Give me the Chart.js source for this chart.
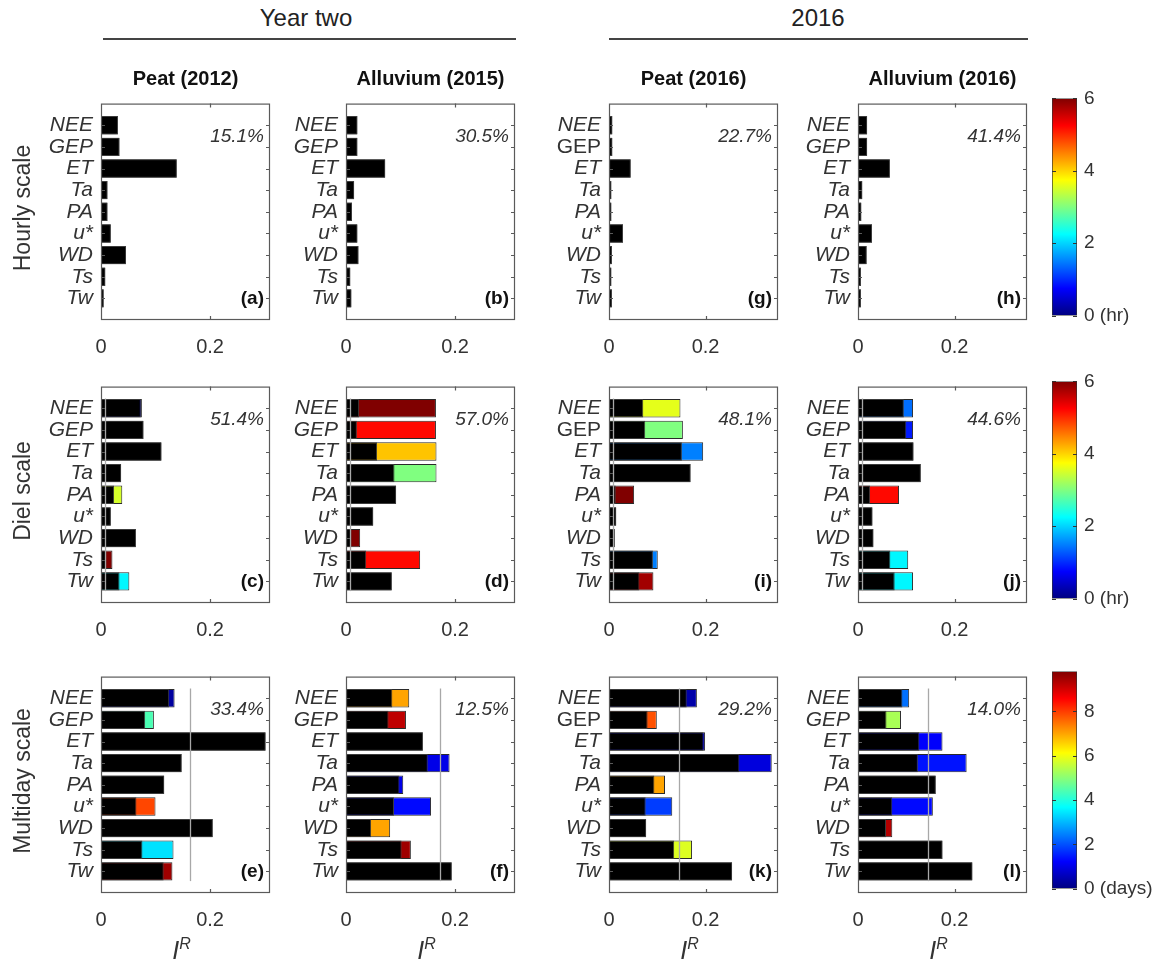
<!DOCTYPE html>
<html>
<head>
<meta charset="utf-8">
<script src="https://cdn.jsdelivr.net/npm/chart.js@4.4.1/dist/chart.umd.min.js"></script>
<style>
  body { margin: 0; background: #fff; overflow: hidden; }
  #fig { position: relative; width: 1154px; height: 962px; overflow: hidden; font-family: 'Liberation Sans', Arial, sans-serif; color: #333; }
  #fig canvas { position: absolute; }
  .head { position: absolute; font-size: 24px; color: #222; transform: translate(-50%, -50%); white-space: nowrap; }
  .rule { position: absolute; height: 2px; background: #444; }
  .ttl { position: absolute; font-size: 20px; font-weight: bold; color: #111; transform: translate(-50%, -50%); white-space: nowrap; }
  .rowlab { position: absolute; font-size: 23px; color: #333; transform: translate(-50%, -50%) rotate(-90deg); white-space: nowrap; }
  .ir { position: absolute; font-size: 25px; color: #333; transform: translate(-50%, -50%); white-space: nowrap; font-style: italic; }
  .ir sup { font-size: 16px; }
</style>
</head>
<body>
<div id="fig">
  <div class="head" style="left:306px;top:18px">Year two</div>
  <div class="rule" style="left:103px;top:38px;width:413px"></div>
  <div class="head" style="left:818px;top:18px">2016</div>
  <div class="rule" style="left:609px;top:38px;width:419px"></div>
</div>
<script>
// variables on the y axis
const variables = ['NEE', 'GEP', 'ET', 'Ta', 'PA', 'u*', 'WD', 'Ts', 'Tw'];
const xTicks = [0, 0.2];

// hourly scale (black part only)
const aBlack = [0.031, 0.034, 0.139, 0.012, 0.012, 0.018, 0.046, 0.008, 0.005];
const bBlack = [0.021, 0.021, 0.072, 0.015, 0.011, 0.021, 0.023, 0.008, 0.010];
const gBlack = [0.007, 0.007, 0.045, 0.005, 0.005, 0.029, 0.006, 0.005, 0.006];
const hBlack = [0.019, 0.019, 0.066, 0.009, 0.007, 0.029, 0.018, 0.006, 0.006];

// diel scale: black part, full bar, lag (hr)
const cBlack = [0.073, 0.078, 0.111, 0.037, 0.024, 0.018, 0.064, 0.010, 0.034];
const cTotal = [0.075, 0.078, 0.111, 0.037, 0.039, 0.018, 0.064, 0.021, 0.052];
const cLag = [0, null, null, null, 3.5, null, null, 6, 2.2];
const dBlack = [0.024, 0.020, 0.057, 0.089, 0.092, 0.050, 0.010, 0.037, 0.084];
const dTotal = [0.165, 0.165, 0.166, 0.166, 0.092, 0.050, 0.026, 0.136, 0.084];
const dLag = [6, 5.2, 4.1, 3.0, null, null, 6, 5.2, null];
const iBlack = [0.071, 0.075, 0.151, 0.169, 0.014, 0.015, 0.012, 0.091, 0.063];
const iTotal = [0.148, 0.153, 0.195, 0.169, 0.052, 0.015, 0.012, 0.101, 0.092];
const iLag = [3.6, 3.0, 1.5, null, 6, null, null, 1.5, 5.8];
const jBlack = [0.095, 0.100, 0.115, 0.130, 0.025, 0.030, 0.032, 0.067, 0.076];
const jTotal = [0.114, 0.114, 0.115, 0.130, 0.085, 0.030, 0.032, 0.104, 0.114];
const jLag = [1.4, 0.9, null, null, 5.2, null, null, 2.2, 2.2];

// multiday scale: black part, full bar, lag (days)
const eBlack = [0.125, 0.081, 0.302, 0.148, 0.116, 0.065, 0.205, 0.076, 0.115];
const eTotal = [0.135, 0.097, 0.302, 0.148, 0.116, 0.100, 0.205, 0.133, 0.131];
const eLag = [0.3, 4.4, null, null, null, 7.9, null, 3.4, 9.5];
const fBlack = [0.085, 0.078, 0.141, 0.150, 0.098, 0.088, 0.046, 0.102, 0.194];
const fTotal = [0.116, 0.110, 0.141, 0.190, 0.105, 0.156, 0.081, 0.119, 0.194];
const fLag = [7.0, 9.2, null, 1.0, 1.0, 1.3, 7.0, 9.5, null];
const kBlack = [0.161, 0.080, 0.196, 0.270, 0.094, 0.076, 0.077, 0.135, 0.255];
const kTotal = [0.182, 0.099, 0.199, 0.337, 0.116, 0.131, 0.077, 0.172, 0.255];
const kLag = [0.4, 7.8, 1.0, 0.9, 7.0, 1.8, null, 5.8, null];
const lBlack = [0.092, 0.059, 0.127, 0.124, 0.161, 0.071, 0.058, 0.175, 0.237];
const lTotal = [0.106, 0.089, 0.175, 0.225, 0.161, 0.155, 0.071, 0.175, 0.237];
const lLag = [2.3, 5.3, 1.2, 1.4, null, 1.3, 9.3, null, null];

const siteTitles = ['Peat (2012)', 'Alluvium (2015)', 'Peat (2016)', 'Alluvium (2016)'];
const scaleNames = ['Hourly scale', 'Diel scale', 'Multiday scale'];
const lagMax = [6, 6, 9.8];
const lagTicks = [[0, 2, 4, 6], [0, 2, 4, 6], [0, 2, 4, 6, 8]];
const lagUnits = ['hr', 'hr', 'days'];

const panels = [
  { tag: 'a', col: 0, row: 0, black: aBlack, total: null, lag: null, pct: '15.1%', thr: null },
  { tag: 'b', col: 1, row: 0, black: bBlack, total: null, lag: null, pct: '30.5%', thr: null },
  { tag: 'g', col: 2, row: 0, black: gBlack, total: null, lag: null, pct: '22.7%', thr: null, upright: ['GEP'] },
  { tag: 'h', col: 3, row: 0, black: hBlack, total: null, lag: null, pct: '41.4%', thr: null },
  { tag: 'c', col: 0, row: 1, black: cBlack, total: cTotal, lag: cLag, pct: '51.4%', thr: 0.008 },
  { tag: 'd', col: 1, row: 1, black: dBlack, total: dTotal, lag: dLag, pct: '57.0%', thr: 0.008 },
  { tag: 'i', col: 2, row: 1, black: iBlack, total: iTotal, lag: iLag, pct: '48.1%', thr: 0.009, upright: ['GEP'] },
  { tag: 'j', col: 3, row: 1, black: jBlack, total: jTotal, lag: jLag, pct: '44.6%', thr: 0.009 },
  { tag: 'e', col: 0, row: 2, black: eBlack, total: eTotal, lag: eLag, pct: '33.4%', thr: 0.164 },
  { tag: 'f', col: 1, row: 2, black: fBlack, total: fTotal, lag: fLag, pct: '12.5%', thr: 0.172 },
  { tag: 'k', col: 2, row: 2, black: kBlack, total: kTotal, lag: kLag, pct: '29.2%', thr: 0.145, upright: ['GEP'] },
  { tag: 'l', col: 3, row: 2, black: lBlack, total: lTotal, lag: lLag, pct: '14.0%', thr: 0.145 },
];

// layout
const colX = [101, 346, 609, 858];
const rowY = [95, 378, 668];
const xMax = [0.31, 0.31, 0.35, 0.35];
const PW = 169, PH = 225;
const family = "'Liberation Sans', Arial, sans-serif";
const fig = document.getElementById('fig');

Chart.defaults.font.family = family;

// matlab jet
function jet(t) {
  t = Math.max(0, Math.min(1, t));
  const c = (v) => Math.round(255 * Math.max(0, Math.min(1, v)));
  return `rgb(${c(1.5 - Math.abs(4 * t - 3))},${c(1.5 - Math.abs(4 * t - 2))},${c(1.5 - Math.abs(4 * t - 1))})`;
}

function addDiv(cls, html, x, y) {
  const d = document.createElement('div');
  d.className = cls;
  d.innerHTML = html;
  d.style.left = x + 'px';
  d.style.top = y + 'px';
  fig.appendChild(d);
}

// box, inward ticks, threshold line, texts
const panelFrame = {
  id: 'panelFrame',
  afterDatasetsDraw(chart, args, opts) {
    if (opts.thr == null) return;
    const { ctx, scales: { x, y } } = chart;
    const px = Math.round(x.getPixelForValue(opts.thr)) + 0.5;
    const step = y.getPixelForValue(1) - y.getPixelForValue(0);
    ctx.save();
    ctx.strokeStyle = '#a8a8a8';
    ctx.lineWidth = 1.3;
    ctx.beginPath();
    ctx.moveTo(px, y.getPixelForValue(1) - step * 0.45);
    ctx.lineTo(px, y.getPixelForValue(9) + step * 0.45);
    ctx.stroke();
    ctx.restore();
  },
  afterDraw(chart, args, opts) {
    const { ctx, chartArea: a, scales: { x, y } } = chart;
    ctx.save();
    ctx.strokeStyle = '#5a5a5a';
    ctx.lineWidth = 1.2;
    ctx.strokeRect(a.left + 0.5, a.top + 0.5, a.right - a.left - 1, a.bottom - a.top - 1);
    ctx.beginPath();
    x.ticks.forEach((t) => {
      if (t.value === 0) return;
      const px = Math.round(x.getPixelForValue(t.value)) + 0.5;
      ctx.moveTo(px, a.top); ctx.lineTo(px, a.top + 4);
      ctx.moveTo(px, a.bottom); ctx.lineTo(px, a.bottom - 4);
    });
    for (let i = 1; i <= variables.length; i++) {
      const py = Math.round(y.getPixelForValue(i)) + 0.5;
      ctx.moveTo(a.left, py); ctx.lineTo(a.left + 4, py);
      ctx.moveTo(a.right, py); ctx.lineTo(a.right - 4, py);
    }
    ctx.stroke();
    ctx.textAlign = 'right';
    ctx.textBaseline = 'middle';
    ctx.fillStyle = '#333';
    ctx.font = `italic 19px ${family}`;
    ctx.fillText(opts.pct, a.right - 6, y.getPixelForValue(1.55));
    ctx.fillStyle = '#111';
    ctx.font = `bold 19px ${family}`;
    ctx.fillText(`(${opts.tag})`, a.right - 6, y.getPixelForValue(9));
    ctx.restore();
  },
};

function makePanel(p) {
  const L = 80, R = 12, T = 12, B = 46;
  const cv = document.createElement('canvas');
  cv.width = L + PW + R;
  cv.height = T + PH + B;
  cv.style.left = colX[p.col] - L + 'px';
  cv.style.top = rowY[p.row] - T + 'px';
  fig.appendChild(cv);

  const pad = (arr) => [null, ...arr, null];
  const total = p.total || p.black;
  const lagColors = variables.map((_, i) =>
    p.lag && p.lag[i] != null ? jet(p.lag[i] / lagMax[p.row]) : '#000'
  );
  const upright = p.upright || [];

  new Chart(cv, {
    type: 'bar',
    data: {
      labels: ['', ...variables, ''],
      datasets: [
        {
          data: pad(p.black),
          backgroundColor: '#000',
          borderColor: '#3c3c3c',
          borderWidth: 1,
          borderSkipped: false,
          grouped: false,
          barPercentage: 0.85,
          categoryPercentage: 1,
        },
        {
          data: pad(total),
          backgroundColor: pad(lagColors),
          borderColor: '#2a2a2a',
          borderWidth: 1,
          borderSkipped: false,
          grouped: false,
          barPercentage: 0.85,
          categoryPercentage: 1,
        },
      ],
    },
    options: {
      indexAxis: 'y',
      responsive: false,
      animation: false,
      events: [],
      layout: { padding: { left: 10, right: R, top: T, bottom: 0 } },
      plugins: {
        legend: { display: false },
        tooltip: { enabled: false },
        panelFrame: { thr: p.thr, pct: p.pct, tag: p.tag },
      },
      scales: {
        x: {
          type: 'linear',
          min: 0,
          max: xMax[p.col],
          grid: { display: false, drawTicks: false },
          border: { display: false },
          afterBuildTicks: (s) => { s.ticks = xTicks.map((v) => ({ value: v })); },
          afterFit: (s) => { s.height = B; },
          ticks: { padding: 15, color: '#333', font: { size: 20 }, callback: (v) => String(v) },
        },
        y: {
          offset: false,
          grid: { display: false, drawTicks: false },
          border: { display: false },
          afterFit: (s) => { s.width = L - 10; },
          ticks: {
            autoSkip: false,
            padding: 8,
            color: '#333',
            font: (ctx) => ({
              size: 21,
              style: ctx.tick && upright.includes(ctx.tick.label) ? 'normal' : 'italic',
            }),
          },
        },
      },
    },
    plugins: [panelFrame],
  });
}

const barTicks = {
  id: 'barTicks',
  afterDraw(chart) {
    const { ctx, chartArea: a, scales: { y } } = chart;
    ctx.save();
    ctx.strokeStyle = '#333';
    ctx.lineWidth = 1;
    ctx.beginPath();
    y.ticks.forEach((t) => {
      const py = Math.round(y.getPixelForValue(t.value)) + 0.5;
      ctx.moveTo(a.left, py); ctx.lineTo(a.left + 4, py);
      ctx.moveTo(a.right, py); ctx.lineTo(a.right - 4, py);
    });
    ctx.stroke();
    ctx.restore();
  },
};

function makeColorbar(row) {
  const L = 10, W = 25, R = 77, T = 12, B = 16, H = 226;
  const cv = document.createElement('canvas');
  cv.width = L + W + R;
  cv.height = T + H + B;
  cv.style.left = 1052 - L + 'px';
  cv.style.top = rowY[row] - 3 - T + 'px';
  fig.appendChild(cv);
  const cmax = lagMax[row];

  new Chart(cv, {
    type: 'bar',
    data: {
      labels: [''],
      datasets: [{
        data: [[0, cmax]],
        backgroundColor: (ctx) => {
          const area = ctx.chart.chartArea;
          if (!area) return '#000';
          const g = ctx.chart.ctx.createLinearGradient(0, area.bottom, 0, area.top);
          for (let i = 0; i <= 32; i++) g.addColorStop(i / 32, jet(i / 32));
          return g;
        },
        borderColor: '#333',
        borderWidth: 1,
        borderSkipped: false,
        barPercentage: 1,
        categoryPercentage: 1,
      }],
    },
    options: {
      responsive: false,
      animation: false,
      events: [],
      layout: { padding: { left: L, right: 0, top: T, bottom: B } },
      plugins: { legend: { display: false }, tooltip: { enabled: false } },
      scales: {
        x: { display: false },
        y: {
          position: 'right',
          min: 0,
          max: cmax,
          grid: { display: false, drawTicks: false },
          border: { display: false },
          afterBuildTicks: (s) => { s.ticks = lagTicks[row].map((v) => ({ value: v })); },
          afterFit: (s) => { s.width = R; },
          ticks: {
            padding: 7,
            color: '#333',
            font: { size: 19 },
            callback: (v) => (v === 0 ? `0 (${lagUnits[row]})` : String(v)),
          },
        },
      },
    },
    plugins: [barTicks],
  });
}

panels.forEach(makePanel);
[0, 1, 2].forEach(makeColorbar);

siteTitles.forEach((t, c) => addDiv('ttl', t, colX[c] + PW / 2, 78));
scaleNames.forEach((t, r) => addDiv('rowlab', t, 22, rowY[r] + PH / 2));
colX.forEach((x) => addDiv('ir', 'I<sup>R</sup>', x + PW / 2 - 4, 950));
</script>
</body>
</html>
